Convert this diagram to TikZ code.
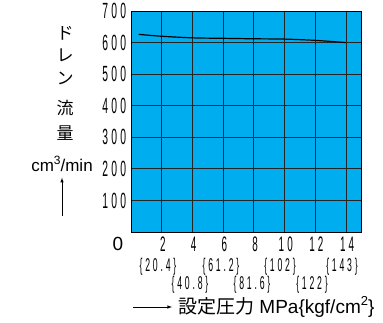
\documentclass[tikz,border=0pt]{standalone}
\usepackage{fontspec}
\usepackage{graphicx}
\setmainfont{Liberation Sans}
\newfontfamily\jpfont{Noto Sans CJK JP}
\newfontfamily\condfont[LetterSpace=32]{Liberation Sans}
\newcommand{\cond}[1]{\scalebox{0.47}[1]{\condfont #1}}
\usetikzlibrary{arrows}
\usetikzlibrary{positioning}

\tikzset{
	yticklabel/.style={anchor=east, inner sep=0pt, font=\fontsize{22}{24}\selectfont},
	xticklabel/.style={inner sep=0pt, font=\fontsize{21}{23}\selectfont},
	kgflabel/.style={inner sep=0pt, font=\fontsize{18.5}{20}\selectfont},
	jplabel/.style={inner sep=0pt, font=\jpfont\fontsize{17}{19}\selectfont},
	gridline/.style={draw=black!85, line width=0.8pt},
}

\begin{document}
\begin{tikzpicture}[x=1pt, y=-1pt]
			\definecolor{CHARTBLUE}{RGB}{0, 174, 239}
			\useasboundingbox (0,0) rectangle (383,323);
			% chart area, x in MPa, y in cm3/min
			\begin{scope}[shift={(131,232)}, x=15.35pt, y=0.3157pt]
				\fill[CHARTBLUE] (0,0) rectangle (15,700);
				\foreach \p in {2,4,...,14} \draw[gridline] (\p,0) -- (\p,700);
				\foreach \q in {100,200,...,600} \draw[gridline] (0,\q) -- (15,\q);
				\draw[black, line width=0.9pt] (0,0) rectangle (15,700);
				\draw[black, line width=1.2pt] plot[smooth] coordinates {(0.5,626) (2,620) (4,615) (6,613.5) (8,612) (10,611) (12,607) (14,600)};
				\foreach \q in {100,200,...,700} \node[yticklabel] (ytick\q) at (-0.3,\q) {\cond{\q}};
				\foreach \p in {2,4,...,14} \node[xticklabel] (xtick\p) at (\p+0.08,-38) {\cond{\p}};
				\node[font=\fontsize{19}{21}\selectfont, inner sep=0pt] (xtick0) at (-0.85,-37) {0};
			\end{scope}
			% kgf/cm2 values
			\node[kgflabel] (kgf204) at (158, 267) {\cond{\{20.4\}}};
			\node[kgflabel] (kgf612) at (221, 267) {\cond{\{61.2\}}};
			\node[kgflabel] (kgf102) at (280, 267) {\cond{\{102\}}};
			\node[kgflabel] (kgf143) at (342, 267) {\cond{\{143\}}};
			\node[kgflabel] (kgf408) at (190, 285) {\cond{\{40.8\}}};
			\node[kgflabel] (kgf816) at (252, 285) {\cond{\{81.6\}}};
			\node[kgflabel] (kgf122) at (312, 285) {\cond{\{122\}}};
			% axis titles
			\node[jplabel] (yt1) at (65, 33) {ド};
			\node[jplabel] (yt2) at (65, 55) {レ};
			\node[jplabel] (yt3) at (65, 78) {ン};
			\node[jplabel] (yt4) at (65, 108) {流};
			\node[jplabel] (yt5) at (65, 133) {量};
			\node[inner sep=0pt, font=\fontsize{17}{19}\selectfont] (ytunit) at (62, 164) {cm\raisebox{0.38em}{\fontsize{12}{12}\selectfont 3}/min};
			\coordinate (yarrowtail) at (62, 216);
			\draw[-latex, line width=0.6pt, shorten >=6pt] (yarrowtail) -- (ytunit.south);
			\node[anchor=west, inner sep=0pt, font=\fontsize{19}{21}\selectfont] (xtitle) at (178, 307) {{\jpfont 設定圧力} MPa\{kgf/cm\raisebox{0.38em}{\fontsize{13}{13}\selectfont 2}\}};
			\coordinate (xarrowtail) at (133, 307);
			\draw[-latex, line width=0.6pt, shorten >=6pt] (xarrowtail) -- (xtitle.west);
		\end{tikzpicture}
\end{document}
